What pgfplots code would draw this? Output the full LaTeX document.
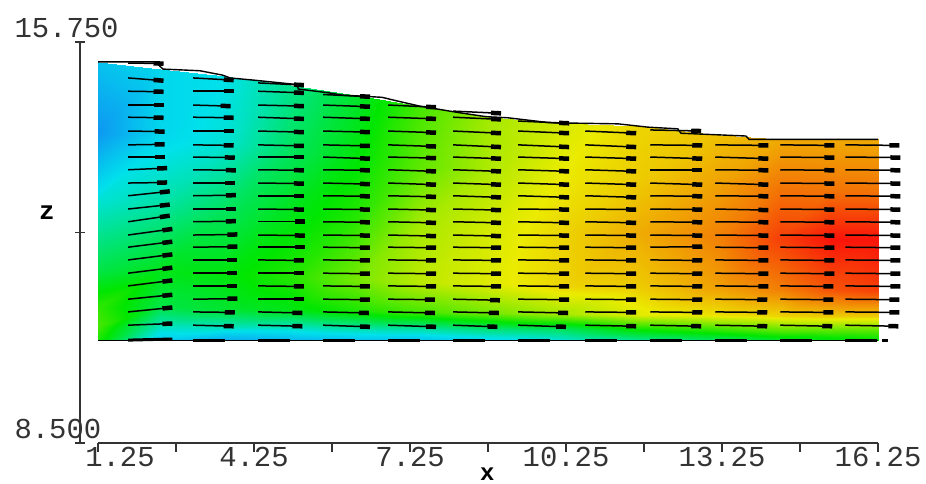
\documentclass[border=0pt]{standalone}
\usepackage{pgfplots}
\pgfplotsset{compat=1.18}
\usepackage{fontspec}
\setmainfont{Liberation Mono}
\usetikzlibrary{arrows.meta}
\pgfplotstableread[row sep=\\]{
x y u v\\
1.83 10.63 .85 .03\\ 1.83 10.87 .85 .08\\ 1.83 11.10 .85 .08\\ 1.83 11.34 .85 .10\\ 1.83 11.57 .85 .10\\ 1.83 11.81 .85 .10\\ 1.83 12.04 .85 .10\\ 1.83 12.26 .85 .11\\ 1.83 12.50 .80 .11\\ 1.83 12.73 .80 .08\\ 1.83 12.97 .80 .08\\ 1.83 13.20 .75 .01\\ 1.83 13.44 .75 .03\\ 1.83 13.67 .70 0\\ 1.83 13.89 .70 .01\\ 1.83 14.14 .70 -.01\\ 1.83 14.39 .68 -.01\\ 1.83 14.61 .68 0\\ 1.83 14.86 .68 -.01\\ 1.83 15.10 .68 -.05\\ 1.83 15.37 .68 -.01\\
3.08 10.63 .78 -.02\\ 3.08 10.87 .80 -.01\\ 3.08 11.10 .85 .01\\ 3.08 11.34 .85 0\\ 3.08 11.57 .85 0\\ 3.08 11.81 .85 0\\ 3.08 12.04 .85 .01\\ 3.08 12.26 .85 .01\\ 3.08 12.50 .82 .01\\ 3.08 12.73 .82 0\\ 3.08 12.97 .82 .01\\ 3.08 13.20 .80 0\\ 3.08 13.44 .82 -.01\\ 3.08 13.67 .80 -.01\\ 3.08 13.89 .78 -.01\\ 3.08 14.14 .78 0\\ 3.08 14.39 .78 -.01\\ 3.08 14.61 .72 -.02\\ 3.08 14.86 .78 0\\ 3.08 15.10 .78 -.04\\
4.33 10.63 .85 -.02\\ 4.33 10.87 .85 -.02\\ 4.33 11.10 .88 0\\ 4.33 11.34 .88 -.01\\ 4.33 11.57 .88 0\\ 4.33 11.81 .88 -.01\\ 4.33 12.04 .90 0\\ 4.33 12.26 .90 -.01\\ 4.33 12.50 .90 0\\ 4.33 12.73 .88 -.01\\ 4.33 12.97 .88 0\\ 4.33 13.20 .88 -.01\\ 4.33 13.44 .88 -.01\\ 4.33 13.67 .88 0\\ 4.33 13.89 .88 -.02\\ 4.33 14.14 .88 -.02\\ 4.33 14.39 .88 -.03\\ 4.33 14.61 .88 -.02\\ 4.33 14.86 .88 -.03\\ 4.33 15.01 .88 -.04\\
5.58 10.63 .90 -.03\\ 5.58 10.87 .88 -.02\\ 5.58 11.10 .90 -.01\\ 5.58 11.34 .90 -.01\\ 5.58 11.57 .90 -.01\\ 5.58 11.81 .90 -.01\\ 5.58 12.04 .90 -.01\\ 5.58 12.26 .90 -.01\\ 5.58 12.50 .90 -.01\\ 5.58 12.73 .90 -.01\\ 5.58 12.97 .90 -.01\\ 5.58 13.20 .90 -.02\\ 5.58 13.44 .90 -.01\\ 5.58 13.67 .90 -.03\\ 5.58 13.89 .90 -.02\\ 5.58 14.14 .90 -.02\\ 5.58 14.39 .90 -.03\\ 5.58 14.61 .90 -.03\\ 5.58 14.80 .90 -.04\\
6.83 10.63 .92 -.03\\ 6.83 10.87 .90 -.02\\ 6.83 11.10 .90 -.01\\ 6.83 11.34 .92 -.01\\ 6.83 11.57 .92 -.01\\ 6.83 11.81 .92 -.01\\ 6.83 12.04 .92 -.01\\ 6.83 12.26 .92 -.02\\ 6.83 12.50 .92 -.02\\ 6.83 12.73 .92 -.02\\ 6.83 12.97 .92 -.02\\ 6.83 13.20 .92 -.03\\ 6.83 13.44 .92 -.03\\ 6.83 13.67 .92 -.02\\ 6.83 13.89 .92 -.03\\ 6.83 14.14 .92 -.03\\ 6.83 14.39 .92 -.03\\ 6.83 14.61 .92 -.04\\
8.08 10.63 .85 -.03\\ 8.08 10.87 .88 -.02\\ 8.08 11.10 .90 -.02\\ 8.08 11.34 .92 -.01\\ 8.08 11.57 .92 -.01\\ 8.08 11.81 .92 -.01\\ 8.08 12.04 .92 -.01\\ 8.08 12.26 .92 -.02\\ 8.08 12.50 .92 -.02\\ 8.08 12.73 .92 -.02\\ 8.08 12.97 .92 -.03\\ 8.08 13.20 .92 -.03\\ 8.08 13.44 .92 -.03\\ 8.08 13.67 .92 -.03\\ 8.08 13.89 .92 -.04\\ 8.08 14.14 .92 -.04\\ 8.08 14.39 .92 -.04\\ 8.08 14.50 .92 -.04\\
9.33 10.63 .92 -.03\\ 9.33 10.87 .96 -.02\\ 9.33 11.10 .98 -.01\\ 9.33 11.34 .98 -.01\\ 9.33 11.57 .98 -.01\\ 9.33 11.81 .98 -.01\\ 9.33 12.04 .98 -.01\\ 9.33 12.26 .98 -.01\\ 9.33 12.50 .98 -.02\\ 9.33 12.73 .98 -.01\\ 9.33 12.97 .98 -.03\\ 9.33 13.20 .98 -.03\\ 9.33 13.44 .98 -.03\\ 9.33 13.67 .98 -.03\\ 9.33 13.89 .98 -.04\\ 9.33 14.14 .98 -.04\\ 9.33 14.32 .98 -.04\\
10.62 10.63 .98 -.02\\ 10.62 10.87 .98 -.01\\ 10.62 11.10 .98 -.01\\ 10.62 11.34 .98 -.01\\ 10.62 11.57 .98 -.01\\ 10.62 11.81 .98 -.01\\ 10.62 12.04 .98 -.01\\ 10.62 12.26 .98 -.01\\ 10.62 12.50 .98 -.02\\ 10.62 12.73 .98 -.01\\ 10.62 12.97 .98 -.03\\ 10.62 13.20 .98 -.03\\ 10.62 13.44 .98 -.03\\ 10.62 13.67 .98 -.03\\ 10.62 13.89 .98 -.04\\ 10.62 14.14 .98 -.04\\
11.87 10.63 .98 -.02\\ 11.87 10.87 1.0 -.01\\ 11.87 11.10 1.0 -.01\\ 11.87 11.34 1.0 -.01\\ 11.87 11.57 1.0 -.01\\ 11.87 11.81 1.0 -.01\\ 11.87 12.04 1.0 .01\\ 11.87 12.26 1.0 -.01\\ 11.87 12.50 1.0 -.01\\ 11.87 12.73 1.0 -.01\\ 11.87 12.97 1.0 -.01\\ 11.87 13.20 1.0 -.03\\ 11.87 13.44 1.0 0\\ 11.87 13.67 1.0 -.03\\ 11.87 13.89 1.0 -.01\\ 11.87 14.16 .98 -.02\\
13.12 10.63 1.0 -.02\\ 13.12 10.87 1.0 -.01\\ 13.12 11.10 1.0 -.01\\ 13.12 11.34 1.02 -.01\\ 13.12 11.57 1.02 -.01\\ 13.12 11.81 1.02 -.01\\ 13.12 12.04 1.02 -.01\\ 13.12 12.26 1.02 -.01\\ 13.12 12.50 1.02 -.01\\ 13.12 12.73 1.02 -.02\\ 13.12 12.97 1.02 -.01\\ 13.12 13.20 1.02 -.03\\ 13.12 13.44 1.02 -.01\\ 13.12 13.67 1.02 -.03\\ 13.12 13.89 1.02 -.01\\
14.37 10.63 1.0 -.02\\ 14.37 10.87 1.02 -.01\\ 14.37 11.10 1.02 -.01\\ 14.37 11.34 1.02 -.01\\ 14.37 11.57 1.04 -.01\\ 14.37 11.81 1.04 -.01\\ 14.37 12.04 1.04 -.01\\ 14.37 12.26 1.04 -.01\\ 14.37 12.50 1.04 -.01\\ 14.37 12.73 1.04 -.01\\ 14.37 12.97 1.04 -.01\\ 14.37 13.20 1.04 -.01\\ 14.37 13.44 1.04 -.01\\ 14.37 13.67 1.04 -.01\\ 14.37 13.89 1.04 -.01\\
15.62 10.63 1.02 -.02\\ 15.62 10.87 1.04 -.01\\ 15.62 11.10 1.04 -.01\\ 15.62 11.34 1.06 -.01\\ 15.62 11.57 1.06 -.01\\ 15.62 11.81 1.06 -.01\\ 15.62 12.04 1.06 -.01\\ 15.62 12.26 1.06 -.01\\ 15.62 12.50 1.06 -.01\\ 15.62 12.73 1.06 -.01\\ 15.62 12.97 1.06 -.01\\ 15.62 13.20 1.06 -.01\\ 15.62 13.44 1.06 -.01\\ 15.62 13.67 1.06 -.01\\ 15.62 13.89 1.04 -.01\\
}\arrowtable
\pgfplotstableread[row sep=\\]{
x y u v\\
1.83 10.36 .85 .02\\ 3.08 10.36 .62 0\\ 4.33 10.36 .62 0\\ 5.58 10.36 .62 0\\ 6.83 10.36 .62 0\\ 8.08 10.36 .62 0\\ 9.33 10.36 .62 0\\ 10.62 10.36 .62 0\\ 11.87 10.36 .62 0\\ 13.12 10.36 .62 0\\ 14.37 10.36 .62 0\\ 15.62 10.36 .62 0\\ 16.32 10.36 .12 0\\
}\bottomtable
\begin{document}
\begin{tikzpicture}[x=1bp,y=1bp]
\path[use as bounding box] (0,0) rectangle (926,484);
% the x axis, the field and the arrows
\begin{axis}[
  at={(98bp,41bp)},anchor=south west,
  scale only axis,width=780bp,height=401bp,
  xmin=1.25,xmax=16.25,ymin=8.5,ymax=15.75,
  clip=false,
  axis x line=bottom,axis y line=none,
  axis line style={-,line width=1.1bp,color=black!80},
  tick style={line width=1.1bp,color=black!80},
  tick align=outside,major tick length=9bp,
  xtick={1.25,2.75,4.25,5.75,7.25,8.75,10.25,11.75,13.25,14.75,16.25},
  xticklabels={\hspace*{44bp}1.25,{},4.25,{},7.25,{},10.25,{},13.25,{},16.25},
  x tick label style={font=\fontsize{29}{29}\selectfont,text=black!80,yshift=8bp,anchor=north},
  /pgf/number format/assume math mode=true,
  xlabel={x},
  xlabel style={font=\fontsize{24}{24}\bfseries,at={(axis description cs:0.499,0)},anchor=center,yshift=-31bp},
  colormap={field}{rgb255=(20,120,245); rgb255=(0,225,235); rgb255=(0,230,0); rgb255=(235,235,0); rgb255=(250,20,10)},
  point meta min=0,point meta max=4,
]
\addplot[surf,shader=interp,mesh/cols=7,point meta=\thisrow{m}] table[row sep=\\,x=x,y=y]{
x y m\\
1.25 15.39 0.7\\ 1.25 14.13 0.3\\ 1.25 12.88 1.1\\ 1.25 11.62 1.7\\ 1.25 10.96 2.2\\ 1.25 10.61 2.3\\ 1.25 10.36 2.1\\
2.44 15.27 0.9\\ 2.44 14.05 0.9\\ 2.44 12.82 1.3\\ 2.44 11.59 1.9\\ 2.44 10.95 1.7\\ 2.44 10.61 1.2\\ 2.44 10.36 0.8\\
3.69 15.13 1.0\\ 3.69 13.92 1.1\\ 3.69 12.73 1.6\\ 3.69 11.55 1.95\\ 3.69 10.93 1.8\\ 3.69 10.60 1.2\\ 3.69 10.36 0.5\\
4.94 14.98 1.4\\ 4.94 13.78 1.6\\ 4.94 12.64 1.9\\ 4.94 11.50 2.15\\ 4.94 10.91 1.9\\ 4.94 10.59 1.2\\ 4.94 10.36 0.6\\
6.19 14.80 1.8\\ 6.19 13.70 1.95\\ 6.19 12.59 2.15\\ 6.19 11.47 2.5\\ 6.19 10.89 2.1\\ 6.19 10.58 1.3\\ 6.19 10.36 0.7\\
7.44 14.59 2.3\\ 7.44 13.52 2.4\\ 7.44 12.47 2.7\\ 7.44 11.41 2.8\\ 7.44 10.87 2.3\\ 7.44 10.57 1.3\\ 7.44 10.36 0.7\\
8.79 14.40 2.7\\ 8.79 13.41 2.75\\ 8.79 12.40 2.9\\ 8.79 11.38 2.95\\ 8.79 10.85 2.5\\ 8.79 10.56 1.5\\ 8.79 10.36 0.9\\
10.13 14.29 2.9\\ 10.13 13.31 3.0\\ 10.13 12.33 3.1\\ 10.13 11.34 3.1\\ 10.13 10.83 2.7\\ 10.13 10.56 1.6\\ 10.13 10.36 1.1\\
11.67 14.23 3.1\\ 11.67 13.25 3.15\\ 11.67 12.29 3.3\\ 11.67 11.32 3.15\\ 11.67 10.82 2.95\\ 11.67 10.55 2.0\\ 11.67 10.36 1.4\\
13.21 14.07 3.2\\ 13.21 13.17 3.35\\ 13.21 12.23 3.5\\ 13.21 11.30 3.35\\ 13.21 10.81 3.05\\ 13.21 10.55 2.2\\ 13.21 10.36 1.6\\
14.37 13.99 3.3\\ 14.37 13.11 3.55\\ 14.37 12.20 3.8\\ 14.37 11.28 3.5\\ 14.37 10.80 3.1\\ 14.37 10.54 2.4\\ 14.37 10.36 1.8\\
15.33 13.99 3.3\\ 15.33 13.08 3.55\\ 15.33 12.18 4.0\\ 15.33 11.27 3.7\\ 15.33 10.80 3.15\\ 15.33 10.54 2.4\\ 15.33 10.36 1.9\\
16.25 13.99 3.3\\ 16.25 13.08 3.55\\ 16.25 12.18 4.0\\ 16.25 11.27 3.8\\ 16.25 10.80 3.15\\ 16.25 10.54 2.4\\ 16.25 10.36 2.0\\
};
% upper edge of the region
\addplot[black,line width=1.4bp] coordinates {
(1.25,15.39) (2.35,15.39) (2.50,15.26) (3.21,15.23) (3.65,15.15) (3.79,15.10) (4.25,15.06) (5.08,14.98) (5.10,14.90) (5.69,14.83) (5.94,14.79) (6.71,14.75) (7.02,14.68) (7.44,14.59) (8.21,14.47) (8.71,14.40) (9.13,14.38) (9.94,14.29) (11.25,14.27) (11.83,14.21) (12.40,14.18) (12.46,14.10) (13.71,14.05) (13.77,13.99) (15.00,13.99) (16.25,13.99)};
% lower edge of the region
\addplot[black,line width=1.2bp] coordinates {(1.25,10.36) (16.25,10.36)};
% velocity arrows
\addplot[black,line width=1.5bp,
  quiver={u=\thisrow{u},v=\thisrow{v},every arrow/.append style={-{Rectangle[length=10bp,width=4.5bp]}}}]
  table[x=x,y=y]{\arrowtable};
\addplot[black,line width=3bp,quiver={u=\thisrow{u},v=\thisrow{v}}]
  table[x=x,y=y]{\bottomtable};
\end{axis}
% the z axis
\begin{axis}[
  at={(80bp,41bp)},anchor=south west,
  scale only axis,width=780bp,height=401bp,
  xmin=0,xmax=1,ymin=8.5,ymax=15.75,
  clip=false,
  axis x line=none,axis y line=left,
  axis line style={-,line width=1.3bp,color=black!80},
  tick style={line width=1.1bp,color=black!80},
  tick align=center,major tick length=10bp,
  ytick={8.5,12.31,15.75},
  yticklabels={8.500,{},15.750},
  y tick label style={font=\fontsize{29}{29}\selectfont,text=black!80,anchor=west,xshift=-64bp,yshift=14bp},
  /pgf/number format/assume math mode=true,
  ylabel={z},
  ylabel style={font=\fontsize{26}{26}\bfseries,rotate=-90,at={(axis description cs:0,0.575)},anchor=center,xshift=-33bp},
]
\end{axis}
\end{tikzpicture}
\end{document}
